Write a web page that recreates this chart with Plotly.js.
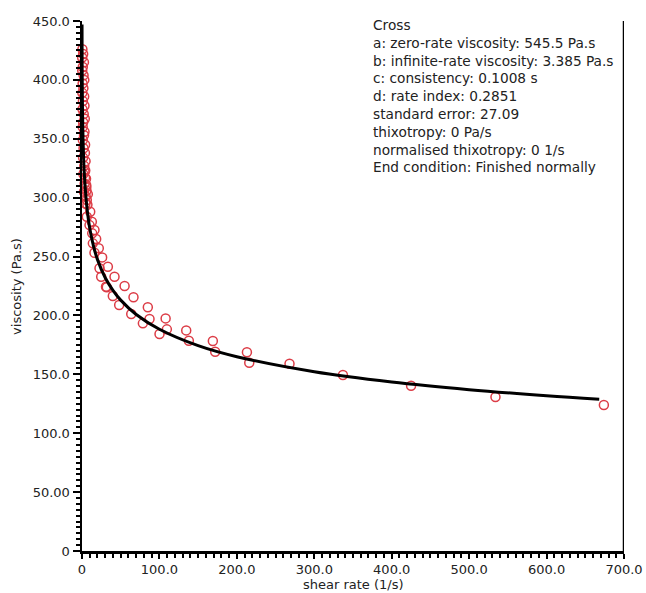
<!DOCTYPE html>
<html>
<head>
<meta charset="utf-8">
<script src="https://cdn.plot.ly/plotly-3.0.1.min.js"></script>
<style>html,body{margin:0;padding:0;background:#fff;}#chart{width:646px;height:593px;}</style>
</head>
<body>
<div id="chart"></div>
<script>
// Measured data (shear rate in 1/s, viscosity in Pa.s)
var shearRate = [
  0.5, 1.5, 0.2, 2.5, 1.0, 0.3, 2.0, 3.0, 0.8, 1.8, 0.4, 2.8, 1.2, 3.2, 0.6, 2.2,
  3.6, 1.5, 0.9, 3.2, 2.6, 1.1, 4.0, 2.0, 3.8, 1.4, 4.6, 2.9, 4.2, 1.7, 5.2, 3.4,
  5.6, 2.5, 4.8, 6.2, 3.9, 5.8, 7.0,
  3.2, 5.4, 7.5, 4.5, 10.6, 6.2, 12.7, 9.7, 16.1, 13.2, 18.3, 14.0, 21.7, 16.1, 26.0,
  22.6, 33.4, 24.8, 32.0, 42.0, 31.0, 39.8, 55.0, 48.0, 66.5, 63.6, 85.0, 78.6, 87.2,
  100.1, 108.0, 109.6, 134.6, 138.0, 169.0, 172.0, 213.0, 216.0, 268.0, 337.0, 425.0,
  534.0, 674.0
];
var viscosity = [
  426, 422, 419, 415, 411, 408, 404, 400, 397, 393, 389, 386, 382, 378, 375, 371,
  367, 364, 360, 356, 353, 349, 345, 342, 338, 334, 331, 327, 323, 320, 316, 312,
  309, 305, 301, 298, 317, 306, 294,
  322, 310.7, 303, 295, 288, 283.8, 279.5, 276.7, 272.5, 269.7, 264.9, 261.2, 257, 253.2, 249.3,
  240, 241.3, 232.9, 223.9, 232.9, 224.4, 216.5, 225, 208.8, 215.4, 201.2, 206.9, 193.3, 197,
  184.2, 197.5, 188.2, 187.3, 178.5, 178.3, 169.2, 168.7, 159.8, 159, 149.4, 140.3,
  130.7, 123.9
];

// Fitted Cross-model curve
var fitShearRate = [0.05, 0.1, 0.2, 0.5, 1, 2, 3, 5, 7, 10, 15, 20, 30, 40, 50, 70, 100, 150, 200, 300, 400, 500, 600, 668];
var fitViscosity = [447, 430, 411, 383, 360, 335, 320, 301, 288, 274, 258.5, 247.4, 232, 221.3, 213, 200.8, 188.3, 174.4, 165, 152.2, 143.5, 137, 131.8, 128.8];

// Axis tick labels
var xTickVals = [0, 100, 200, 300, 400, 500, 600, 700];
var xTickText = ["0", "100.0", "200.0", "300.0", "400.0", "500.0", "600.0", "700.0"];
var yTickVals = [0, 50, 100, 150, 200, 250, 300, 350, 400, 450];
var yTickText = ["0", "50.00", "100.0", "150.0", "200.0", "250.0", "300.0", "350.0", "400.0", "450.0"];

var infoLines = [
  "Cross",
  "a: zero-rate viscosity: 545.5 Pa.s",
  "b: infinite-rate viscosity: 3.385 Pa.s",
  "c: consistency: 0.1008 s",
  "d: rate index: 0.2851",
  "standard error: 27.09",
  "thixotropy: 0 Pa/s",
  "normalised thixotropy: 0 1/s",
  "End condition: Finished normally"
];

var FONT = "DejaVu Sans, Liberation Sans, Arial, sans-serif";
var TXT = "#222";

var traces = [
  {
    x: shearRate, y: viscosity, type: "scatter", mode: "markers",
    marker: {symbol: "circle-open", size: 9, color: "#dc3c46", line: {width: 1.5, color: "#dc3c46"}},
    cliponaxis: false, showlegend: false, hoverinfo: "x+y"
  },
  {
    x: fitShearRate, y: fitViscosity, type: "scatter", mode: "lines",
    line: {color: "#000", width: 3, shape: "spline"},
    showlegend: false
  }
];

var axisCommon = {
  showgrid: false, zeroline: false, showline: true, linecolor: "#000", linewidth: 2.5,
  ticks: "outside", ticklen: 7, tickwidth: 2, tickcolor: "#000",
  tickfont: {family: FONT, size: 13, color: TXT},
  tickmode: "array"
};

var layout = {
  width: 646, height: 593,
  margin: {l: 82, r: 22, t: 21, b: 42},
  paper_bgcolor: "#fff", plot_bgcolor: "#fff",
  font: {family: FONT, color: TXT},
  xaxis: Object.assign({}, axisCommon, {
    range: [0, 700], tickvals: xTickVals, ticktext: xTickText, ticklen: 5,
    minor: {dtick: 10, ticks: "outside", ticklen: 4, tickwidth: 2, tickcolor: "#000", showgrid: false}
  }),
  yaxis: Object.assign({}, axisCommon, {
    range: [0, 450], tickvals: yTickVals, ticktext: yTickText,
    minor: {dtick: 5, ticks: "outside", ticklen: 4, tickwidth: 2, tickcolor: "#000", showgrid: false}
  }),
  shapes: [
    {type: "line", xref: "x", yref: "paper", x0: 700, x1: 700, y0: 0, y1: 1, line: {color: "#000", width: 2.5}}
  ],
  annotations: [
    {
      xref: "paper", yref: "paper", x: 0.534, y: 1.012, xanchor: "left", yanchor: "top",
      align: "left", showarrow: false, text: infoLines.join("<br>"),
      font: {family: FONT, size: 13.7, color: TXT}
    },
    {
      xref: "paper", yref: "paper", x: 0.5, y: -0.064, xanchor: "center", yanchor: "middle",
      showarrow: false, text: "shear rate (1/s)",
      font: {family: FONT, size: 13, color: TXT}
    },
    {
      xref: "paper", yref: "paper", x: -0.122, y: 0.5, xanchor: "center", yanchor: "middle",
      showarrow: false, textangle: -90, text: "viscosity (Pa.s)",
      font: {family: FONT, size: 13, color: TXT}
    }
  ]
};

Plotly.newPlot("chart", traces, layout, {displayModeBar: false, staticPlot: true});
</script>
</body>
</html>
